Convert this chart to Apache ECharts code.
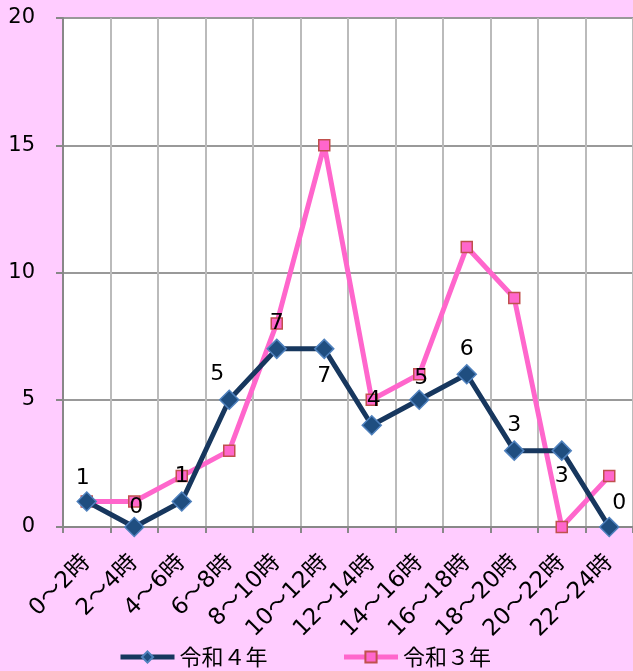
<!DOCTYPE html>
<html>
<head>
<meta charset="utf-8">
<script src="https://cdn.jsdelivr.net/npm/echarts@6/dist/echarts.min.js"></script>
<style>
html,body{margin:0;padding:0;background:#FFCCFF;}
#container{width:633px;height:671px;}
</style>
</head>
<body>
<div id="container"></div>
<script>
var categories = ['0～2時','2～4時','4～6時','6～8時','8～10時','10～12時','12～14時','14～16時','16～18時','18～20時','20～22時','22～24時'];
var r4 = [1,0,1,5,7,7,4,5,6,3,3,0];
var r3 = [1,1,2,3,8,15,5,6,11,9,0,2];
var yTicks = [0,5,10,15,20];

// where each 令和４年 label sits (Excel style)
var labelPlace = [
    ['top',[-4,2]],['top',[2,6]],['top',[0,0]],['top',[-12,0]],
    ['top',[0,0]],['bottom',[0,2]],['top',[2,0]],['top',[2,4]],
    ['top',[0,0]],['top',[0,0]],['bottom',[0,0]],['top',[10,2]]
];

function loadData(){
    var dom = document.getElementById("container");
    var myChart = echarts.init(dom);

    var r4data = r4.map(function(v,i){
        return {
            value: v,
            label: {position: labelPlace[i][0], offset: labelPlace[i][1]}
        };
    });

    var option = {
        backgroundColor: '#FFCCFF',
        textStyle: {fontFamily: '"DejaVu Sans", "Noto Sans CJK JP", sans-serif'},
        legend: {
            bottom: -2,
            left: 113,
            itemWidth: 54,
            itemHeight: 14,
            itemGap: 74,
            lineStyle: {width: 5},
            textStyle: {fontSize: 22, color: '#000', fontFamily: '"Noto Sans CJK JP", sans-serif'},
            data: ['令和４年','令和３年']
        },
        grid: {left: 63, right: -2, top: 18, bottom: 144, containLabel: false,
            show: true, backgroundColor: '#fff', borderWidth: 0},
        xAxis: {
            type: 'category',
            data: categories,
            boundaryGap: true,
            axisLine: {lineStyle: {color: '#888', width: 2}},
            axisTick: {show: true, length: 6, lineStyle: {color: '#888', width: 2}},
            axisLabel: {rotate: 45, fontSize: 23, color: '#000', margin: 32, interval: 0},
            splitLine: {show: true, lineStyle: {color: '#bbb', width: 2}}
        },
        yAxis: {
            type: 'value',
            min: 0, max: 20, interval: 5,
            axisLine: {show: true, lineStyle: {color: '#888', width: 2}},
            axisTick: {show: true, length: 7, lineStyle: {color: '#888', width: 2}},
            axisLabel: {fontSize: 21, color: '#000', margin: 28,
                formatter: function(v){ return yTicks.indexOf(v) >= 0 ? String(v) : ''; }},
            splitLine: {show: true, lineStyle: {color: '#999', width: 2}}
        },
        series: [{
            name: '令和４年',
            type: 'line',
            data: r4data,
            z: 3,
            symbol: 'diamond',
            symbolSize: 19,
            lineStyle: {color: '#17375E', width: 5},
            itemStyle: {color: '#1F4E80', borderColor: '#4F81BD', borderWidth: 1.5},
            label: {show: true, fontSize: 22, color: '#000', distance: 4},
            emphasis: {disabled: true}
        }, {
            name: '令和３年',
            type: 'line',
            data: r3,
            z: 2,
            symbol: 'rect',
            symbolSize: 11,
            lineStyle: {color: '#FF66CC', width: 5},
            itemStyle: {color: '#FF66CC', borderColor: '#C0504D', borderWidth: 1.5},
            emphasis: {disabled: true}
        }]
    };
    myChart.setOption(option, true);
}
loadData();
</script>
</body>
</html>
